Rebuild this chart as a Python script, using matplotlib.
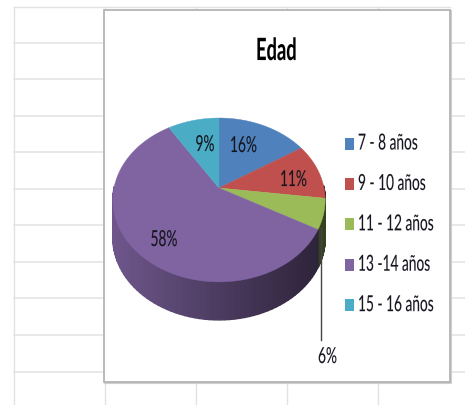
import numpy as np
import matplotlib
matplotlib.use("Agg")
import matplotlib.pyplot as plt
import matplotlib.patheffects as pe
from matplotlib.patches import Polygon, Rectangle
from matplotlib.transforms import Affine2D

# Edad: share of respondents per age group
categories = ['7 - 8 años', '9 - 10 años', '11 - 12 años', '13 -14 años', '15 - 16 años']
values = [16, 11, 6, 58, 9]
value_labels = ['16%', '11%', '6%', '58%', '9%']
colors = ['#4f81bd', '#c0504d', '#9bbb59', '#8064a2', '#4bacc6']
title = 'Edad'

plt.rcParams['font.family'] = ['Lato', 'DejaVu Sans']


class Squeeze(pe.AbstractPathEffect):
    """Narrow and stretch the glyphs, the reference font is a condensed one."""

    def __init__(self, sx, sy=1.0, bold=0.08):
        super().__init__()
        self.sx = sx
        self.sy = sy
        self.bold = bold

    def draw_path(self, renderer, gc, tpath, affine, rgbFace=None):
        gc0 = renderer.new_gc()
        gc0.copy_properties(gc)
        gc0.set_linewidth(self.bold)
        gc0.set_foreground(rgbFace)
        renderer.draw_path(gc0, tpath, Affine2D().scale(self.sx, self.sy) + affine, rgbFace)
        gc0.restore()


fig = plt.figure(figsize=(4.65, 4.05), dpi=100)
ax = fig.add_axes([0, 0, 1, 1])
ax.set_xlim(0, 465)
ax.set_ylim(405, 0)
ax.axis('off')

# spreadsheet grid behind the chart
grid = '#e2e2e2'
ax.plot([14, 450], [7, 7], color=grid, lw=1, zorder=1)
for y in [43, 79, 116, 152, 189, 225, 262, 298, 335, 372]:
    ax.plot([14, 465], [y, y], color=grid, lw=1.1, zorder=1)
for x in [14, 105, 196, 287, 378]:
    ax.plot([x, x], [7, 405], color=grid, lw=1, zorder=1)

# chart frame with its soft shadow
ax.plot([105, 451, 451], [383, 383, 11], color='#d0d0d0', lw=1.5, zorder=2)
ax.add_patch(Rectangle((104, 10), 346, 372, fc='white', ec='#b4b4b4', lw=1.3, zorder=2))

# tilted pie: circle pushed through a perspective projection
cx, cy = 219, 188
r_x, r_y, c = 105, 80.2, -0.146
depth = 38


def project(theta):
    s, t = np.sin(theta), -np.cos(theta)
    den = 1 + c * t
    return cx + r_x * s / den, cy + r_y * t / den


def shade(col, f):
    return tuple(v * f for v in matplotlib.colors.to_rgb(col))


edges = np.cumsum([0] + values) / sum(values) * 2 * np.pi

# side wall, lit from the left
for i, col in enumerate(colors):
    th = np.linspace(edges[i], edges[i + 1], 90)
    for a, b in zip(th[:-1], th[1:]):
        if np.cos((a + b) / 2) > 0.03:
            continue
        xa, ya = project(a)
        xb, yb = project(b)
        f = 0.86 - 0.52 * (xa - 113) / 212
        ax.add_patch(Polygon([(xa, ya), (xb, yb), (xb, yb + depth), (xa, ya + depth)],
                             fc=shade(col, f), ec=shade(col, f), lw=1, zorder=3))

# top face
for i, col in enumerate(colors):
    th = np.linspace(edges[i], edges[i + 1], 120)
    xs, ys = project(th)
    pts = np.column_stack([np.r_[cx, xs], np.r_[cy, ys]])
    ax.add_patch(Polygon(pts, fc=col, ec=col, lw=0.3, zorder=4))

text_col = '#15151f'
squeeze = [Squeeze(0.76, 1.22)]

# data labels
label_xy = [(230, 147), (280, 181), (318, 358), (150.5, 241), (195.5, 146)]
for lab, (lx, ly) in zip(value_labels, label_xy):
    ax.text(lx, ly, lab, ha='left', va='center', fontsize=13, color=text_col,
            zorder=6, path_effects=squeeze)

# leader line for the small slice
ax.plot([320.5, 320.5], [228, 340], color='#444444', lw=1, zorder=5)

ax.text(256, 51, title, ha='left', va='center', fontsize=22, fontweight='bold', color='black',
        zorder=6, path_effects=[Squeeze(0.6)])

# legend
for i, (cat, col) in enumerate(zip(categories, colors)):
    y = 143.5 + i * 40.4
    ax.add_patch(Rectangle((345, y - 6), 9, 12, fc=col, ec='none', zorder=6))
    ax.text(358, y + 1, cat, ha='left', va='center', fontsize=13, color=text_col,
            zorder=6, path_effects=squeeze)

plt.savefig('out.png', dpi=100)
